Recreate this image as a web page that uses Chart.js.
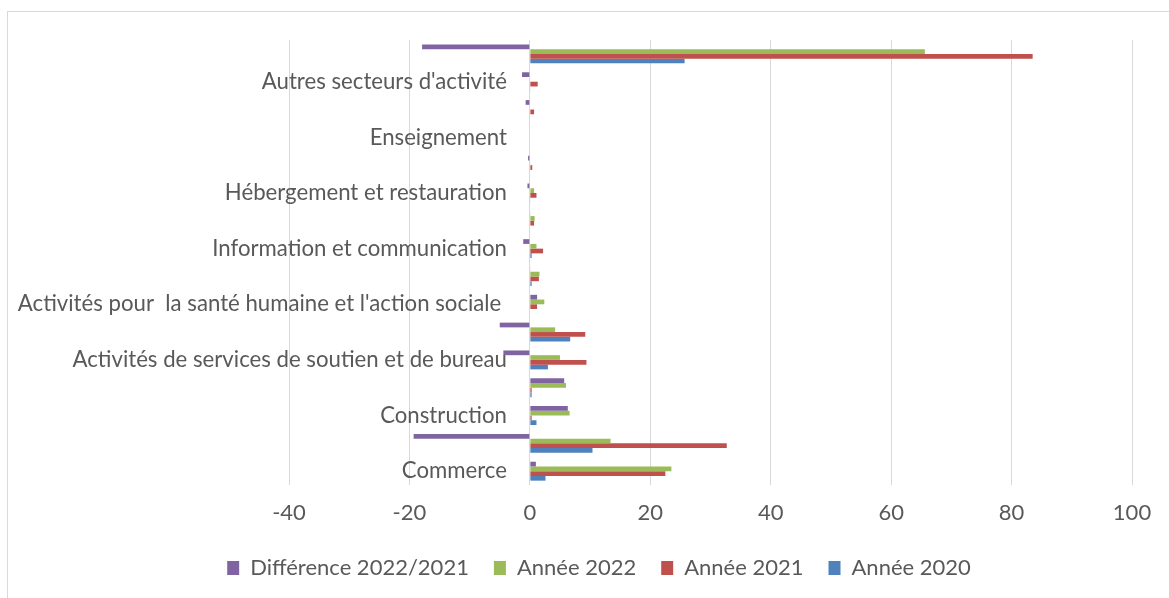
<!DOCTYPE html>
<html><head><meta charset="utf-8">
<script src="https://cdn.jsdelivr.net/npm/chart.js@4.4.1/dist/chart.umd.min.js"></script>
<style>
html,body{margin:0;padding:0;background:#fff;}
#wrap{position:relative;width:1169px;height:598px;overflow:hidden;}
#frame{position:absolute;left:7px;top:11px;width:1180px;height:600px;border:1px solid #d9d9d9;box-sizing:border-box;}
canvas{position:absolute;left:0;top:0;}
</style></head><body>
<div id="wrap"><div id="frame"></div><canvas id="c" width="1169" height="598"></canvas></div>
<script>
// Categories listed bottom-to-top (as in the original spreadsheet order)
const categories = ["Commerce", "Industrie", "Construction", "Transports et entreposage",
  "Activités de services de soutien et de bureau", "Activités spécialisées, scientifiques et techniques",
  "Activités pour  la santé humaine et l'action sociale ", "Activités financières et d'assurance",
  "Information et communication", "Activités immobilières", "Hébergement et restauration",
  "Arts, spectacles et activités récréatives", "Enseignement", "Administration publique",
  "Autres secteurs d'activité", "Total"];
const difference = [1.0, -19.3, 6.3, 5.7, -4.4, -5.0, 1.2, 0.1, -1.1, 0.1, -0.4, -0.3, 0, -0.7, -1.3, -17.9];
const annee2022  = [23.5, 13.4, 6.6, 6.0, 5.0, 4.2, 2.4, 1.6, 1.1, 0.8, 0.7, 0.1, 0, 0, 0, 65.6];
const annee2021  = [22.5, 32.7, 0.3, 0.3, 9.4, 9.2, 1.2, 1.5, 2.2, 0.7, 1.1, 0.4, 0, 0.7, 1.3, 83.5];
const annee2020  = [2.6, 10.4, 1.1, 0.3, 3.0, 6.7, 0, 0.3, 0.3, 0, 0.1, 0, 0, 0, 0.1, 25.7];
const seriesNames = ["Différence 2022/2021", "Année 2022", "Année 2021", "Année 2020"];
const xMin = -40, xMax = 100, xStep = 20;

const FONT = "Lato";
const TXT = "#595959";

new Chart(document.getElementById('c'), {
  type: 'bar',
  data: {
    labels: categories,
    datasets: [
      { label: seriesNames[0], data: difference, backgroundColor: '#8064A2' },
      { label: seriesNames[1], data: annee2022, backgroundColor: '#9BBB59' },
      { label: seriesNames[2], data: annee2021, backgroundColor: '#C0504D' },
      { label: seriesNames[3], data: annee2020, backgroundColor: '#4F81BD' }
    ]
  },
  options: {
    indexAxis: 'y',
    responsive: false,
    animation: false,
    datasets: { bar: { categoryPercentage: 0.68, barPercentage: 1.0, xAxisID: 'x', yAxisID: 'y' } },
    layout: { padding: { left: 66, right: 37, top: 40, bottom: 9 } },
    scales: {
      x: {
        min: xMin, max: xMax,
        ticks: { stepSize: xStep, color: TXT, padding: 15, font: { family: FONT, size: 22 } },
        grid: { color: '#d9d9d9', drawTicks: false },
        border: { display: false },
        afterFit: function (s) { s.height -= 9.5; }
      },
      y: {
        reverse: true,
        position: { x: -3.8 },
        grid: { display: false, drawTicks: false },
        border: { display: false },
        ticks: {
          autoSkip: false, padding: 0, color: TXT, font: { family: FONT, size: 22.2 },
          callback: function (v) { return v % 2 === 0 ? categories[v] : ''; }
        }
      },
      pad: {
        type: 'linear', axis: 'y', position: 'left',
        grid: { display: false, drawTicks: false }, border: { display: false },
        ticks: { display: false },
        afterFit: function (s) { s.width = 223; }
      }
    },
    plugins: {
      legend: {
        position: 'bottom',
        labels: { boxWidth: 12, boxHeight: 14, padding: 25, color: TXT, font: { family: FONT, size: 22 } }
      },
      tooltip: { enabled: false }
    }
  }
});
</script>
</body></html>
